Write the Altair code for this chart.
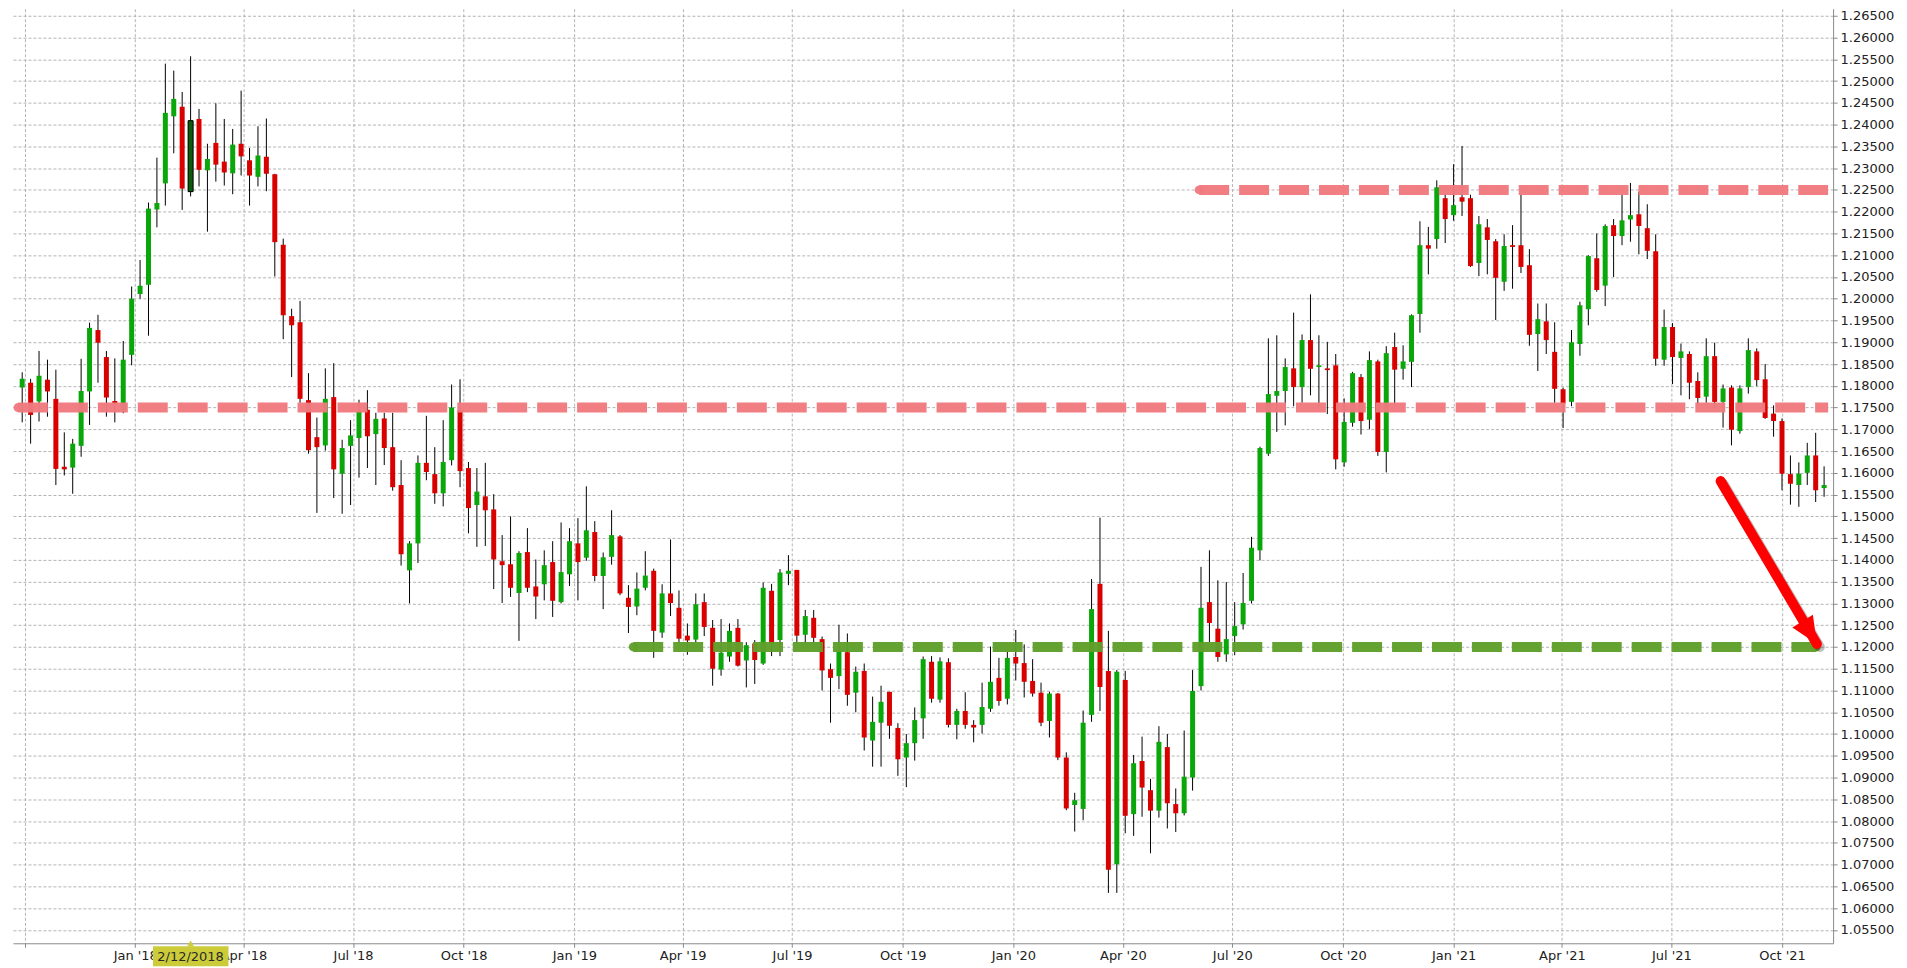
import altair as alt
import pandas as pd

# ---------------- data (weekly EUR/USD candles) ----------------
weeks = pd.date_range("2017-09-29", periods=215, freq="7D").strftime("%Y-%m-%d").tolist()

opens = [
    1.1796, 1.1807, 1.1764, 1.1814, 1.1770, 1.1614, 1.1612, 1.1662, 1.1787, 1.1928,
    1.1866, 1.1765, 1.1745, 1.1871, 1.2011, 1.2032, 1.2205, 1.2265, 1.2419, 1.2441,
    1.2246, 1.2413, 1.2295, 1.2358, 1.2315, 1.2288, 1.2356, 1.2318, 1.2280, 1.2326,
    1.2286, 1.2124, 1.1960, 1.1946, 1.1767, 1.1682, 1.1663, 1.1774, 1.1598, 1.1662,
    1.1680, 1.1745, 1.1689, 1.1725, 1.1659, 1.1572, 1.1376, 1.1438, 1.1623, 1.1597,
    1.1553, 1.1629, 1.1744, 1.1611, 1.1526, 1.1546, 1.1516, 1.1397, 1.1390, 1.1324,
    1.1418, 1.1339, 1.1344, 1.1395, 1.1303, 1.1367, 1.1438, 1.1405, 1.1464, 1.1363,
    1.1407, 1.1454, 1.1313, 1.1293, 1.1336, 1.1375, 1.1233, 1.1323, 1.1290, 1.1226,
    1.1217, 1.1303, 1.1244, 1.1148, 1.1178, 1.1244, 1.1169, 1.1208, 1.1162, 1.1329,
    1.1216, 1.1368, 1.1377, 1.1228, 1.1267, 1.1218, 1.1149, 1.1133, 1.1188, 1.1095,
    1.1145, 1.0985, 1.1026, 1.1097, 1.1014, 1.0946, 1.0979, 1.1036, 1.1166, 1.1079,
    1.1165, 1.1021, 1.1053, 1.1021, 1.1021, 1.1058, 1.1129, 1.1081, 1.1177, 1.1163,
    1.1122, 1.1095, 1.1030, 1.1093, 1.0946, 1.0837, 1.0828, 1.1044, 1.1345, 1.1145,
    1.0701, 1.1124, 1.0816, 1.0938, 1.0871, 1.0824, 1.0970, 1.0839, 1.0818, 1.0900,
    1.1110, 1.1303, 1.1242, 1.1183, 1.1225, 1.1252, 1.1306, 1.1422, 1.1644, 1.1777,
    1.1788, 1.1840, 1.1797, 1.1905, 1.1843, 1.1840, 1.1847, 1.1624, 1.1715, 1.1820,
    1.1722, 1.1856, 1.1648, 1.1889, 1.1839, 1.1855, 1.1965, 1.2123, 1.2137, 1.2231,
    1.2192, 1.2233, 1.2231, 1.2082, 1.2164, 1.2132, 1.2039, 1.2123, 1.2123, 1.2077,
    1.1919, 1.1948, 1.1878, 1.1792, 1.1763, 1.1896, 1.1976, 1.2093, 1.2030, 1.2169,
    1.2144, 1.2182, 1.2194, 1.2162, 1.2109, 1.1860, 1.1935, 1.1864, 1.1873, 1.1811,
    1.1775, 1.1868, 1.1763, 1.1796, 1.1696, 1.1797, 1.1879, 1.1815, 1.1736, 1.1719,
    1.1597, 1.1572, 1.1600, 1.1640, 1.1565,
]
highs = [
    1.1831, 1.1816, 1.1880, 1.1860, 1.1837, 1.1693, 1.1678, 1.1862, 1.1945, 1.1963,
    1.1880, 1.1863, 1.1903, 1.2028, 1.2089, 1.2221, 1.2324, 1.2540, 1.2524, 1.2475,
    1.2557, 1.2436, 1.2356, 1.2449, 1.2413, 1.2390, 1.2478, 1.2346, 1.2396, 1.2414,
    1.2287, 1.2138, 1.1977, 1.1995, 1.1829, 1.1727, 1.1840, 1.1852, 1.1676, 1.1721,
    1.1768, 1.1790, 1.1738, 1.1738, 1.1738, 1.1629, 1.1443, 1.1640, 1.1731, 1.1659,
    1.1721, 1.1803, 1.1815, 1.1625, 1.1611, 1.1623, 1.1551, 1.1457, 1.1500, 1.1420,
    1.1473, 1.1401, 1.1422, 1.1443, 1.1486, 1.1473, 1.1496, 1.1569, 1.1489, 1.1417,
    1.1514, 1.1457, 1.1342, 1.1371, 1.1420, 1.1380, 1.1344, 1.1447, 1.1330, 1.1254,
    1.1323, 1.1323, 1.1262, 1.1264, 1.1254, 1.1264, 1.1211, 1.1216, 1.1348, 1.1345,
    1.1379, 1.1411, 1.1377, 1.1285, 1.1285, 1.1224, 1.1162, 1.1251, 1.1231, 1.1155,
    1.1162, 1.1086, 1.1111, 1.1097, 1.1025, 1.1000, 1.1061, 1.1178, 1.1179, 1.1176,
    1.1174, 1.1058, 1.1096, 1.1032, 1.1118, 1.1201, 1.1175, 1.1189, 1.1239, 1.1206,
    1.1172, 1.1118, 1.1097, 1.1094, 1.0958, 1.0865, 1.1054, 1.1356, 1.1497, 1.1237,
    1.1147, 1.1145, 1.0952, 1.0994, 1.0897, 1.1018, 1.1000, 1.0875, 1.1008, 1.1147,
    1.1384, 1.1422, 1.1353, 1.1349, 1.1303, 1.1370, 1.1453, 1.1660, 1.1909, 1.1916,
    1.1863, 1.1968, 1.1918, 1.2010, 1.1916, 1.1901, 1.1873, 1.1771, 1.1832, 1.1827,
    1.1879, 1.1860, 1.1891, 1.1922, 1.1893, 1.1964, 1.2178, 1.2165, 1.2272, 1.2242,
    1.2309, 1.2351, 1.2239, 1.2190, 1.2183, 1.2137, 1.2148, 1.2169, 1.2239, 1.2114,
    1.1989, 1.1989, 1.1946, 1.1796, 1.1928, 1.1993, 1.2100, 1.2150, 1.2171, 1.2183,
    1.2239, 1.2266, 1.2246, 1.2217, 1.2148, 1.1975, 1.1944, 1.1897, 1.1879, 1.1831,
    1.1909, 1.1899, 1.1803, 1.1801, 1.1801, 1.1909, 1.1886, 1.1850, 1.1755, 1.1725,
    1.1640, 1.1624, 1.1669, 1.1692, 1.1615,
]
lows = [
    1.1716, 1.1667, 1.1718, 1.1729, 1.1572, 1.1594, 1.1552, 1.1637, 1.1710, 1.1807,
    1.1729, 1.1716, 1.1737, 1.1847, 1.2000, 1.1915, 1.2164, 1.2214, 1.2334, 1.2204,
    1.2235, 1.2258, 1.2154, 1.2269, 1.2260, 1.2240, 1.2283, 1.2214, 1.2258, 1.2247,
    1.2051, 1.1907, 1.1820, 1.1761, 1.1644, 1.1508, 1.1651, 1.1542, 1.1506, 1.1526,
    1.1589, 1.1611, 1.1572, 1.1618, 1.1559, 1.1387, 1.1300, 1.1393, 1.1583, 1.1529,
    1.1523, 1.1617, 1.1567, 1.1461, 1.1430, 1.1432, 1.1333, 1.1301, 1.1315, 1.1214,
    1.1326, 1.1264, 1.1307, 1.1269, 1.1300, 1.1340, 1.1307, 1.1398, 1.1351, 1.1287,
    1.1389, 1.1319, 1.1232, 1.1273, 1.1330, 1.1175, 1.1221, 1.1271, 1.1208, 1.1182,
    1.1211, 1.1225, 1.1111, 1.1134, 1.1166, 1.1155, 1.1107, 1.1115, 1.1159, 1.1179,
    1.1179, 1.1342, 1.1208, 1.1208, 1.1210, 1.1100, 1.1026, 1.1103, 1.1065, 1.1050,
    1.0962, 1.0925, 1.0925, 1.0989, 1.0904, 1.0878, 1.0939, 1.0989, 1.1072, 1.1072,
    1.1015, 1.0988, 1.1012, 1.0981, 1.1001, 1.1051, 1.1065, 1.1068, 1.1123, 1.1084,
    1.1086, 1.1018, 1.0992, 1.0940, 1.0825, 1.0776, 1.0802, 1.1028, 1.1053, 1.0635,
    1.0635, 1.0772, 1.0766, 1.0810, 1.0726, 1.0808, 1.0783, 1.0775, 1.0813, 1.0870,
    1.1100, 1.1211, 1.1166, 1.1166, 1.1181, 1.1240, 1.1300, 1.1399, 1.1639, 1.1694,
    1.1709, 1.1753, 1.1761, 1.1778, 1.1752, 1.1735, 1.1608, 1.1614, 1.1706, 1.1688,
    1.1700, 1.1639, 1.1601, 1.1755, 1.1814, 1.1797, 1.1922, 1.2056, 1.2115, 1.2128,
    1.2179, 1.2190, 1.2073, 1.2052, 1.2056, 1.1951, 1.2018, 1.2023, 1.2059, 1.1892,
    1.1834, 1.1873, 1.1761, 1.1703, 1.1753, 1.1869, 1.1939, 1.2016, 1.1983, 1.2050,
    1.2123, 1.2131, 1.2102, 1.2091, 1.1846, 1.1846, 1.1804, 1.1778, 1.1769, 1.1753,
    1.1761, 1.1749, 1.1704, 1.1663, 1.1690, 1.1782, 1.1799, 1.1724, 1.1683, 1.1560,
    1.1527, 1.1522, 1.1572, 1.1533, 1.1545,
]
closes = [
    1.1816, 1.1733, 1.1823, 1.1787, 1.1609, 1.1608, 1.1667, 1.1788, 1.1933, 1.1899,
    1.1773, 1.1760, 1.1860, 1.2000, 1.2030, 1.2207, 1.2220, 1.2427, 1.2459, 1.2253,
    1.2409, 1.2296, 1.2321, 1.2308, 1.2290, 1.2354, 1.2327, 1.2283, 1.2329, 1.2287,
    1.2130, 1.1962, 1.1939, 1.1770, 1.1652, 1.1659, 1.1770, 1.1608, 1.1657, 1.1686,
    1.1742, 1.1684, 1.1724, 1.1657, 1.1567, 1.1413, 1.1438, 1.1623, 1.1602, 1.1553,
    1.1625, 1.1750, 1.1604, 1.1519, 1.1557, 1.1514, 1.1401, 1.1388, 1.1336, 1.1416,
    1.1336, 1.1316, 1.1388, 1.1306, 1.1372, 1.1443, 1.1395, 1.1468, 1.1363, 1.1406,
    1.1457, 1.1323, 1.1292, 1.1334, 1.1364, 1.1237, 1.1323, 1.1301, 1.1219, 1.1215,
    1.1298, 1.1246, 1.1150, 1.1187, 1.1237, 1.1157, 1.1204, 1.1170, 1.1336, 1.1208,
    1.1371, 1.1375, 1.1226, 1.1271, 1.1221, 1.1146, 1.1129, 1.1189, 1.1090, 1.1143,
    1.0992, 1.1028, 1.1074, 1.1019, 1.0942, 1.0979, 1.1032, 1.1172, 1.1081, 1.1167,
    1.1021, 1.1053, 1.1021, 1.1015, 1.1062, 1.1120, 1.1076, 1.1175, 1.1162, 1.1120,
    1.1093, 1.1026, 1.1093, 1.0946, 1.0829, 1.0848, 1.1026, 1.1287, 1.1108, 1.0688,
    1.1143, 1.0812, 1.0933, 1.0877, 1.0824, 1.0982, 1.0841, 1.0818, 1.0902, 1.1099,
    1.1290, 1.1255, 1.1177, 1.1218, 1.1248, 1.1301, 1.1428, 1.1657, 1.1781, 1.1788,
    1.1843, 1.1797, 1.1905, 1.1839, 1.1847, 1.1836, 1.1631, 1.1717, 1.1829, 1.1719,
    1.1859, 1.1648, 1.1875, 1.1837, 1.1856, 1.1962, 1.2123, 1.2115, 1.2256, 1.2183,
    1.2215, 1.2223, 1.2075, 1.2171, 1.2135, 1.2048, 1.2121, 1.2119, 1.2073, 1.1917,
    1.1953, 1.1905, 1.1793, 1.1759, 1.1900, 1.1985, 1.2098, 1.2020, 1.2167, 1.2144,
    1.2180, 1.2192, 1.2167, 1.2110, 1.1862, 1.1935, 1.1866, 1.1879, 1.1807, 1.1772,
    1.1868, 1.1763, 1.1794, 1.1699, 1.1794, 1.1882, 1.1813, 1.1726, 1.1719, 1.1598,
    1.1575, 1.1598, 1.1640, 1.1560, 1.1572,
]
assert len(opens) == len(highs) == len(lows) == len(closes) == len(weeks) == 215

selected_week = "2018-02-16"
selected_label = "2/12/2018"

# horizontal level lines
level_price = [1.175, 1.225, 1.12]
level_start = ["2017-09-25T12:00:00Z", "2020-06-03T12:00:00Z", "2019-02-19T00:00:00Z"]
level_end = ["2021-11-08T08:00:00Z", "2021-11-08T08:00:00Z", "2021-10-29T10:00:00Z"]
level_color = ["#ef7a7f", "#ef7a7f", "#5f9f2a"]

# arrow (start -> tip)
arrow_dates = ["2021-08-11T00:00:00Z", "2021-10-30T00:00:00Z"]
arrow_prices = [1.1581, 1.1207]

ytick_labels = [round(1.055 + 0.005 * i, 3) for i in range(43)]
xtick_months = [(2017, 10)] + [(y, m) for y in (2018, 2019, 2020, 2021) for m in (1, 4, 7, 10)]

# ---------------- frames ----------------
df = pd.DataFrame({"date": weeks, "open": opens, "high": highs, "low": lows, "close": closes})
df["kind"] = ["up" if c >= o else "down" for o, c in zip(opens, closes)]
df.loc[df["date"] == selected_week, "kind"] = "sel"

lv = pd.DataFrame({"price": level_price, "start": level_start, "end": level_end, "color": level_color})
caps = pd.DataFrame({
    "date": level_start + [level_end[2]],
    "price": level_price + [level_price[2]],
    "color": level_color + [level_color[2]],
})
arrow = pd.DataFrame({"d0": [arrow_dates[0]], "d1": [arrow_dates[1]],
                      "p0": [arrow_prices[0]], "p1": [arrow_prices[1]]})
tip = pd.DataFrame({"date": [arrow_dates[1]], "price": [arrow_prices[1]]})
label_df = pd.DataFrame({"x0": ["2018-01-15T17:00:00Z"], "x1": ["2018-03-19T12:00:00Z"],
                         "xm": [selected_week], "text": [selected_label]})

# ---------------- scales / axes ----------------
FONT = "DejaVu Sans"
xscale = alt.Scale(type="utc", domain=[alt.DateTime(year=2017, month=9, date=25, hours=12, utc=True),
                                       alt.DateTime(year=2021, month=11, date=8, hours=8, utc=True)])
yscale = alt.Scale(domain=[1.05193, 1.26661], zero=False, nice=False)

xaxis = alt.Axis(
    values=[alt.DateTime(year=y, month=m, date=1, utc=True) for y, m in xtick_months],
    labelExpr="utcyear(datum.value) < 2018 ? '' : utcFormat(datum.value, '%b') + \" '\" + utcFormat(datum.value, '%y')",
    grid=True, gridDash=[3, 2], gridColor="#b4b4b4", gridWidth=1,
    domainColor="#8a8a8a", tickColor="#8a8a8a", tickSize=4,
    labelFont=FONT, labelFontSize=13, labelColor="#222222", labelPadding=2,
    labelOverlap=False, labelFlush=False, title=None,
)
yaxis = alt.Axis(
    orient="right", values=ytick_labels, format=".5f",
    grid=True, gridDash=[3, 2], gridColor="#b4b4b4", gridWidth=1,
    domainColor="#8a8a8a", tickColor="#8a8a8a", tickSize=4,
    labelFont=FONT, labelFontSize=13, labelColor="#222222", labelPadding=3,
    labelOverlap=False, title=None,
)


def X(field):
    return alt.X(field, type="temporal", scale=xscale, axis=xaxis)


def Y(field):
    return alt.Y(field, type="quantitative", scale=yscale, axis=yaxis)


kind_scale = alt.Scale(domain=["up", "down", "sel"], range=["#0aa70a", "#d90000", "#0c5a0c"])

wicks = alt.Chart(df).mark_rule(color="black", strokeWidth=1).encode(
    x=X("date"), y=Y("low"), y2="high:Q")
bodies = alt.Chart(df).mark_bar(size=5).encode(
    x=X("date"), y=Y("open"), y2="close:Q",
    color=alt.Color("kind:N", scale=kind_scale, legend=None))
sel_body = alt.Chart(df).transform_filter(alt.datum.kind == "sel").mark_bar(
    size=5, stroke="black", strokeWidth=1, fill="#0c5a0c").encode(
    x=X("date"), y=Y("open"), y2="close:Q")

levels = alt.Chart(lv).mark_rule(strokeWidth=10, strokeDash=[30, 10], strokeCap="butt", opacity=0.97).encode(
    x=X("start"), x2="end:T", y=Y("price"), color=alt.Color("color:N", scale=None))
level_caps = alt.Chart(caps).mark_circle(size=80, opacity=0.97).encode(
    x=X("date"), y=Y("price"), color=alt.Color("color:N", scale=None))

arrow_shadow = alt.Chart(arrow).mark_rule(color="#000000", opacity=0.25, strokeWidth=10, strokeCap="round",
                                         xOffset=3, yOffset=3, x2Offset=3, y2Offset=3).encode(
    x=X("d0"), x2="d1:T", y=Y("p0"), y2="p1:Q")
arrow_shaft = alt.Chart(arrow).mark_rule(color="#ff0000", strokeWidth=10, strokeCap="round").encode(
    x=X("d0"), x2="d1:T", y=Y("p0"), y2="p1:Q")
arrow_head = alt.Chart(tip).mark_point(
    shape="M0,0L-0.45,1L0.45,1Z", size=2900, angle=148, filled=True, color="#ff0000", opacity=1).encode(
    x=X("date"), y=Y("price"))

label_box = alt.Chart(label_df).mark_rect(color="#cccc3a").encode(
    x=X("x0"), x2="x1:T", y=alt.value(939), y2=alt.value(959))
label_ptr = alt.Chart(label_df).mark_point(shape="triangle-up", filled=True, size=45, color="#cccc3a",
                                           opacity=1).encode(x=X("xm"), y=alt.value(936))
label_text = alt.Chart(label_df).mark_text(font=FONT, fontSize=13, color="#2a2a2a", baseline="middle").encode(
    x=X("xm"), y=alt.value(949.5), text="text:N")

chart = alt.layer(
    wicks, bodies, sel_body, levels, level_caps, arrow_shadow, arrow_shaft, arrow_head,
    label_box, label_ptr, label_text,
).properties(
    width=1823, height=936,
    padding={"left": 5, "top": 0, "right": 5, "bottom": 5},
    background="white",
).configure_view(stroke=None)

chart.save("out.html", embed_options={"renderer": "svg", "actions": False})
